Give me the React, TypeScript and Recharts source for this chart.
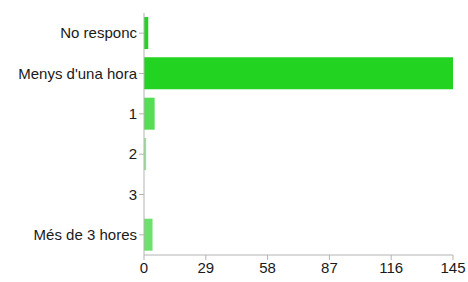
import React from 'react';
import { BarChart, Bar, XAxis, YAxis, Cell } from 'recharts';

const categories = ['No responc', "Menys d'una hora", '1', '2', '3', 'Més de 3 hores'];
const counts = [2, 145, 5, 1, 0, 4];
const barColors = ['#22d322', '#22d322', '#55dd55', '#8ce88c', '#6ee06e', '#6ee06e'];
const xTicks = [0, 29, 58, 87, 116, 145];

const data = categories.map((name, i) => ({ name, value: counts[i] }));

const axisColor = '#b3b3b3';
const tickStyle = { fill: '#1a1a1a', fontSize: 15, fontFamily: 'Liberation Sans, Arial, sans-serif' };

export default function App() {
  return (
    <div style={{ width: 468, height: 282 }}>
      <style>{`body{margin:0}`}</style>
      <BarChart
        width={468}
        height={282}
        data={data}
        layout="vertical"
        margin={{ top: 13, right: 15, bottom: 5, left: 0 }}
        barCategoryGap="10%"
      >
        <XAxis
          type="number"
          domain={[0, 145]}
          ticks={xTicks}
          interval={0}
          stroke={axisColor}
          tickSize={5}
          tick={tickStyle}
          height={22}
        />
        <YAxis
          type="category"
          dataKey="name"
          width={144}
          stroke={axisColor}
          tickSize={5}
          tick={tickStyle}
          interval={0}
        />
        <Bar dataKey="value" isAnimationActive={false}>
          {data.map((_d, i) => (
            <Cell key={`c-${i}`} fill={barColors[i]} />
          ))}
        </Bar>
      </BarChart>
    </div>
  );
}
